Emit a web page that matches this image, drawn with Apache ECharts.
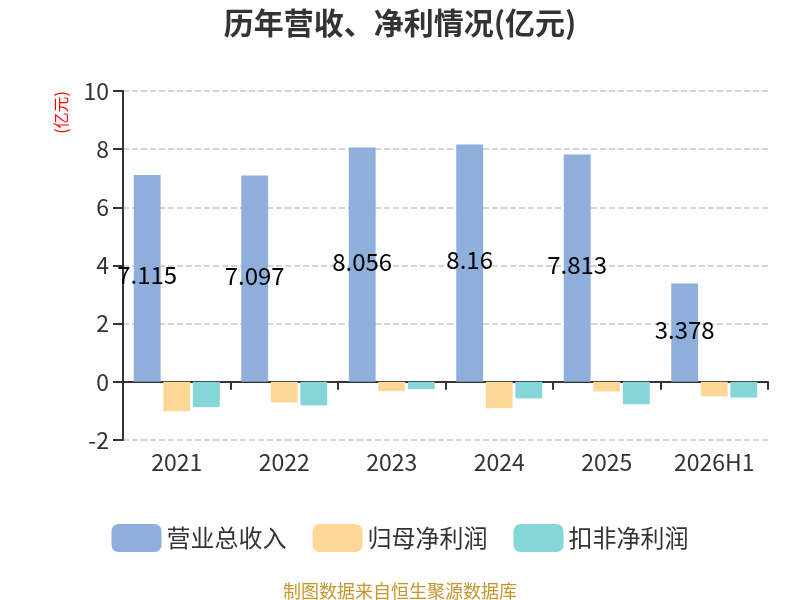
<!DOCTYPE html>
<html>
<head>
<meta charset="utf-8">
<script src="https://cdn.jsdelivr.net/npm/echarts@6/dist/echarts.min.js"></script>
<style>
html, body { margin: 0; padding: 0; background: #fff; }
#graph { width: 800px; height: 600px; }
</style>
</head>
<body>
<div id="graph"></div>
<script>
"use strict"

const years = ["2021", "2022", "2023", "2024", "2025", "2026H1"];
const revenue = [7.115, 7.097, 8.056, 8.16, 7.813, 3.378];
const netProfit = [-1.01, -0.71, -0.32, -0.91, -0.33, -0.50];
const deductedProfit = [-0.87, -0.81, -0.25, -0.57, -0.77, -0.54];
const seriesNames = ["营业总收入", "归母净利润", "扣非净利润"];
const colors = ["#8eaedb", "#ffd897", "#86d5d8"];

const fontFamily = "'Noto Sans CJK SC', 'Noto Sans', sans-serif";
const myChart = echarts.init(document.getElementById("graph"), null, { renderer: "canvas" });

const option = {
    textStyle: { fontFamily: fontFamily },
    color: colors,
    animation: false,
    title: [
        {
            text: "历年营收、净利情况(亿元)",
            left: "center",
            top: 3,
            textStyle: { fontSize: 30, fontWeight: "bold", color: "#333", fontFamily: fontFamily }
        },
        {
            text: "制图数据来自恒生聚源数据库",
            left: "center",
            top: 577,
            textStyle: { fontSize: 18, fontWeight: "normal", color: "#c8952c", fontFamily: fontFamily }
        }
    ],
    legend: {
        top: 519,
        left: "center",
        itemWidth: 50,
        itemHeight: 28,
        itemGap: 26,
        icon: "roundRect",
        textStyle: { fontSize: 24, color: "#333", fontFamily: fontFamily },
        data: seriesNames
    },
    grid: { left: 123, right: 32, top: 91, bottom: 160 },
    xAxis: {
        type: "category",
        data: years,
        axisLine: { onZero: true, lineStyle: { color: "#333", width: 2 } },
        axisTick: { show: true, length: 8, lineStyle: { color: "#333", width: 2 } },
        axisLabel: { fontSize: 23, color: "#333", margin: 11 }
    },
    yAxis: {
        type: "value",
        min: -2,
        max: 10,
        interval: 2,
        name: "(亿元)",
        nameLocation: "end",
        nameRotate: 90,
        nameGap: 0,
        nameTextStyle: { color: "red", fontSize: 16, align: "right", verticalAlign: "bottom", padding: [0, 0, 54, 0] },
        axisLine: { show: true, lineStyle: { color: "#333", width: 2 } },
        axisTick: { show: true, length: 10, lineStyle: { color: "#333", width: 2 } },
        axisLabel: { fontSize: 23, color: "#333", margin: 14 },
        splitLine: { show: true, lineStyle: { type: "dashed", color: "#c8c8c8", width: 1.5 } }
    },
    series: [
        {
            name: seriesNames[0],
            type: "bar",
            data: revenue,
            barGap: "10%",
            barCategoryGap: "20%",
            label: { show: true, position: "inside", color: "#000", fontSize: 24, offset: [0, -3] }
        },
        {
            name: seriesNames[1],
            type: "bar",
            data: netProfit,
            barGap: "10%",
            barCategoryGap: "20%"
        },
        {
            name: seriesNames[2],
            type: "bar",
            data: deductedProfit,
            barGap: "10%",
            barCategoryGap: "20%"
        }
    ]
};
myChart.setOption(option);
</script>
</body>
</html>
